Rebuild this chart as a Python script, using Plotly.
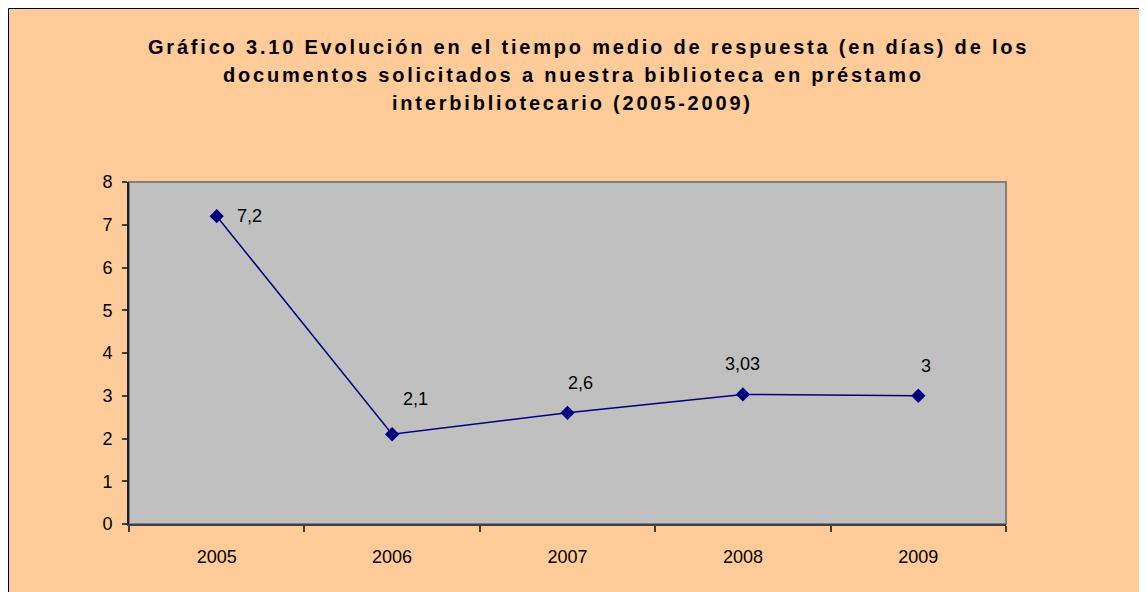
import plotly.graph_objects as go

years = ["2005", "2006", "2007", "2008", "2009"]
days = [7.2, 2.1, 2.6, 3.03, 3]
labels = ["7,2", "2,1", "2,6", "3,03", "3"]
y_ticks = [0, 1, 2, 3, 4, 5, 6, 7, 8]

title_lines = [
    "Gráfico 3.10 Evolución en el tiempo medio de respuesta (en días) de los",
    "documentos solicitados a nuestra biblioteca en préstamo",
    "interbibliotecario (2005-2009)",
]

# figure is placed at (8, 8) in the page by the browser body margin
W, H = 1139, 584
L, R, T, B = 121, 141, 174, 68
PW, PH = W - L - R, H - T - B

def px(x):
    return (x - L) / PW

def py(y):
    return (H - B - y) / PH

FONT = "Liberation Sans, Arial, sans-serif"

fig = go.Figure()
fig.add_trace(go.Scatter(
    x=years, y=days, mode="lines+markers",
    line=dict(color="#000080", width=1.5),
    marker=dict(symbol="diamond", size=11, color="#000080"),
    hoverinfo="skip", showlegend=False,
))

# label offsets (px) to mimic original placement
offsets = [(33, 0), (23, 35), (13, 30), (0, 30), (8, 30)]
for i, (v, lab, (dx, dy)) in enumerate(zip(days, labels, offsets)):
    fig.add_annotation(x=i, y=v, xref="x", yref="y", text=lab, showarrow=False,
                       xshift=dx, yshift=dy,
                       font=dict(family=FONT, size=18, color="#000000"))

shapes = [
    # plot area border (gray, top/right)
    dict(type="rect", xref="paper", yref="paper", x0=0, x1=1, y0=0, y1=1,
         line=dict(color="#808080", width=2), layer="below"),
    # black frame lines (left, top)
    dict(type="line", xref="paper", yref="paper", x0=px(0.5), x1=px(W + 5),
         y0=py(0.5), y1=py(0.5), line=dict(color="#000000", width=1), layer="above"),
    dict(type="line", xref="paper", yref="paper", x0=px(0.5), x1=px(0.5),
         y0=py(0.5), y1=py(H + 5), line=dict(color="#000000", width=1), layer="above"),
]

title_x = [580, 565, 564]
for i, line in enumerate(title_lines):
    fig.add_annotation(xref="paper", yref="paper", x=px(title_x[i]), y=py(39 + 28 * i),
                       text='<span style="letter-spacing:2.8px"><b>' + line + "</b></span>",
                       showarrow=False, xanchor="center", yanchor="middle",
                       font=dict(family=FONT, size=20, color="#000000"))

fig.update_layout(
    width=W, height=H,
    margin=dict(l=L, r=R, t=T, b=B, pad=0),
    paper_bgcolor="#FFCC99",
    plot_bgcolor="#C0C0C0",
    shapes=shapes,
    showlegend=False,
    xaxis=dict(
        type="category", range=[-0.5, 4.5],
        tickson="boundaries", ticks="outside", ticklen=6, tickwidth=1.5,
        tickcolor="#404040",
        showline=True, linecolor="#404040", linewidth=2,
        showgrid=False, zeroline=False,
        tickfont=dict(family=FONT, size=18, color="#000000"),
        ticklabelstandoff=15,
    ),
    yaxis=dict(
        range=[0, 8], tickvals=y_ticks, ticktext=[str(v) for v in y_ticks],
        ticks="outside", ticklen=5, tickwidth=1.5, tickcolor="#404040",
        showline=True, linecolor="#202020", linewidth=2,
        showgrid=False, zeroline=False,
        tickfont=dict(family=FONT, size=18, color="#000000"),
        ticklabelstandoff=6,
    ),
)

fig.write_html("out.html")
